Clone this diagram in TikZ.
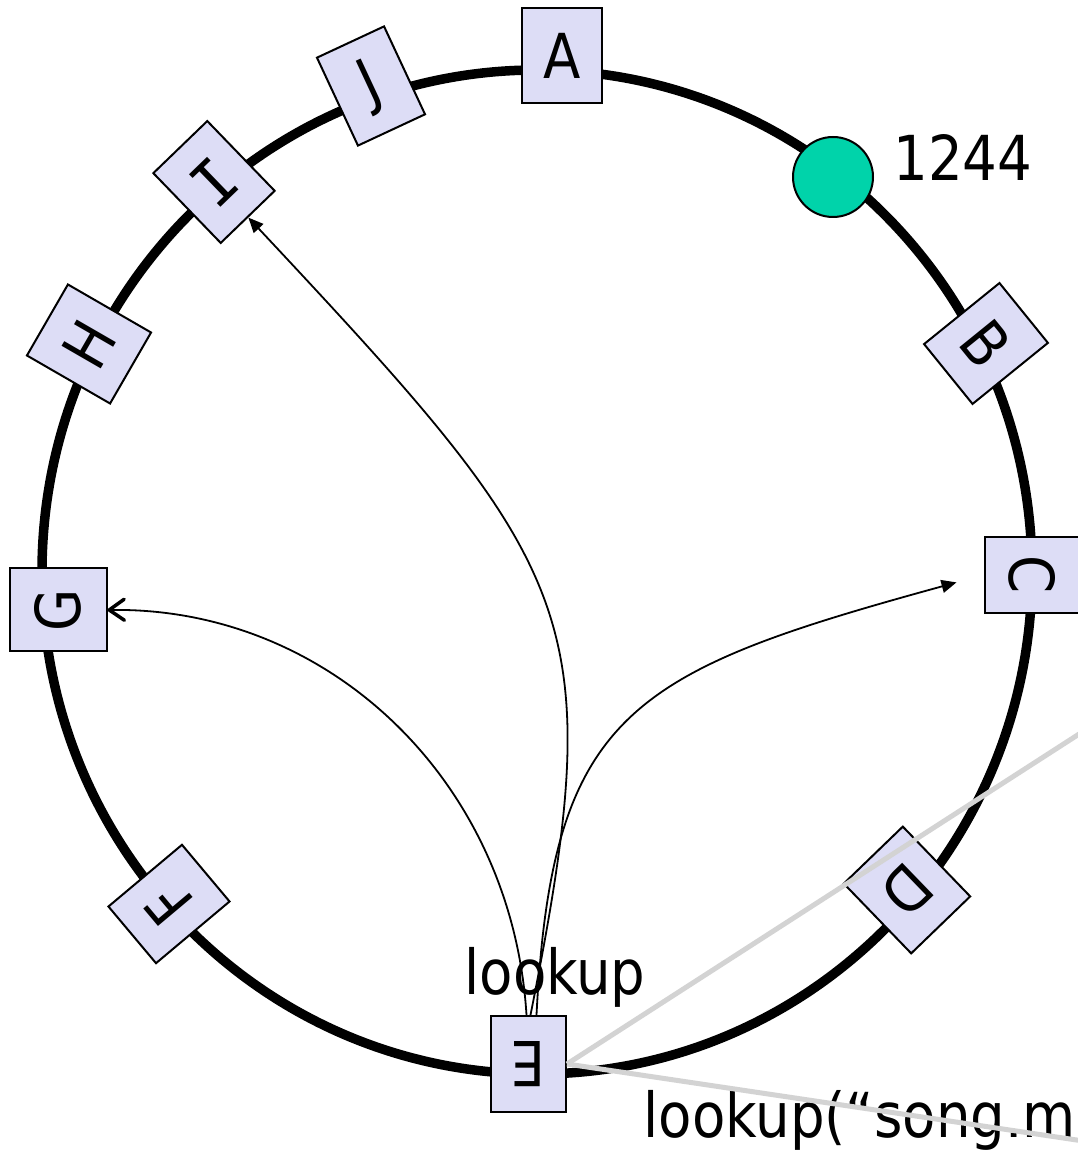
\documentclass[tikz,border=0pt]{standalone}
\usepackage{fontspec}
\setmainfont{DejaVu Sans}[FakeStretch=0.88]
\newfontfamily\serifI{DejaVu Sans Mono}
\usetikzlibrary{arrows.meta}
\definecolor{boxfill}{RGB}{221,221,246}
\definecolor{dotfill}{RGB}{0,211,170}
\definecolor{graylink}{RGB}{211,211,211}
\begin{document}
\begin{tikzpicture}[x=1pt,y=1pt,
  bigtext/.style={font=\fontsize{62}{70}\selectfont},
  ring/.style={draw=black, line width=9.5pt},
  peer/.style n args={2}{draw=black, line width=2pt, fill=boxfill, inner sep=0pt,
    minimum width=#1pt, minimum height=#2pt, bigtext},
  dot/.style={circle, draw=black, line width=2pt, fill=dotfill, minimum size=80pt, inner sep=0pt},
  conn/.style={draw=black, line width=1.8pt},
  filledtip/.style={-{Triangle[length=15pt,width=13pt]}},
  opentip/.style={-{Straight Barb[length=15pt,width=21pt,line width=3.5pt,round]}},
  graylinkstyle/.style={draw=graylink, line width=5pt}]
\useasboundingbox (0,0) rectangle (1078,1152);
\clip (0,0) rectangle (1078,1152);

% ring
\draw[ring] (537,580) ellipse [x radius=495, y radius=502];

% peers
\node[peer={80}{95}, rotate=0]    (A) at (562,1096) {A};
\node[peer={74}{97}, rotate=25]   (J) at (371,1066) {J};
\node[peer={75}{97}, rotate=44]   (I) at (214,970)  {\serifI I};
\node[peer={82}{96}, rotate=60]   (H) at (89,808)   {H};
\node[peer={83}{97}, rotate=90]   (G) at (58,542)   {G};
\node[peer={74}{96}, rotate=130]  (F) at (169,248)  {F};
\node[peer={75}{96}, rotate=180]  (E) at (528.5,88) {E};
\node[peer={82}{97}, rotate=-136] (D) at (907,262)  {D};
\node[peer={76}{95}, rotate=-90]  (C) at (1032,577) {C};
\node[peer={77}{97}, rotate=-51]  (B) at (986,808.5) {B};

% key
\node[dot] (key) at (833,975) {};
\node[bigtext, anchor=center] (keylabel) at (963,994) {1244};

% labels
\node[bigtext, anchor=base] (lk) at (555,157) {lookup};
\node[bigtext, anchor=base west] (lksong) at (640,14) {lookup(“song.m};

% lookup connectors
\draw[conn, opentip] ([xshift=-2pt]E.south) .. controls (512,370) and (330,545) .. (G.south);
\draw[conn, filledtip] ([xshift=2pt]E.south) .. controls (610,537) and (580,580) .. (I.south);
\draw[conn, filledtip, shorten >=28pt] ([xshift=8pt]E.south) .. controls (552,440) and (630,480) .. (C.south);

% gray links
\coordinate (gup) at (1090,425);
\coordinate (gdown) at (1090,10);
\draw[graylinkstyle] (E.west) -- (gup);
\draw[graylinkstyle] (E.west) -- (gdown);
\end{tikzpicture}
\end{document}
